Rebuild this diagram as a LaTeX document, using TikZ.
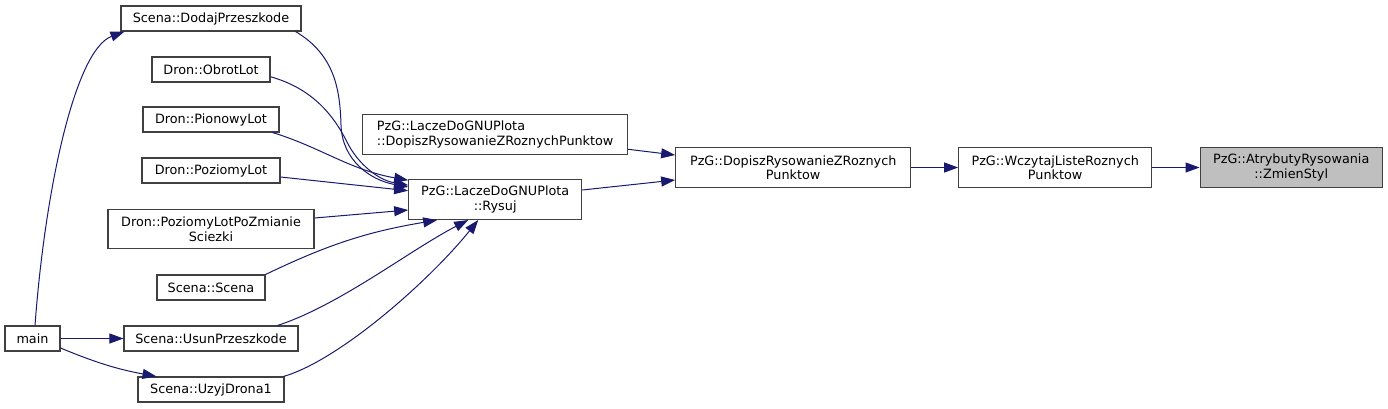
\documentclass[tikz,border=0pt]{standalone}
\usepackage{fontspec}
\setmainfont{DejaVu Sans}
\usepackage{tikz}
\usepackage{xcolor}
\usetikzlibrary{arrows.meta,calc}

\definecolor{ramka}{HTML}{404040}
\definecolor{krawedz}{HTML}{191970}
\definecolor{szary}{HTML}{BFBFBF}
\newcommand{\px}{0.75pt}

\begin{document}
\begin{tikzpicture}[x=0.75pt, y=-0.75pt,
  funkcja/.style={rectangle, draw=ramka, line width=0.8pt, inner sep=0pt, align=center,
    font=\fontsize{9.6pt}{10.9pt}\selectfont, minimum height=25*\px},
  dwie/.style={minimum height=39.6*\px},
  wywolanie/.style={draw=krawedz, line width=0.75pt, -{Triangle[length=10.5pt, width=7.5pt]}}]
\useasboundingbox (0,0) rectangle (1388,408);

% wywolujacy
\node[funkcja, minimum width=55*\px] (main) at (32.5,338.5) {main};
\node[funkcja, minimum width=180*\px] (dodaj) at (211,18.5) {Scena::DodajPrzeszkode};
\node[funkcja, minimum width=118*\px] (obrot) at (211,69.5) {Dron::ObrotLot};
\node[funkcja, minimum width=136*\px] (pionowy) at (211,119.5) {Dron::PionowyLot};
\node[funkcja, minimum width=138*\px] (poziomy) at (211,170.5) {Dron::PoziomyLot};
\node[funkcja, dwie, minimum width=206*\px] (pozzm) at (211,229) {Dron::PoziomyLotPoZmianie\\Sciezki};
\node[funkcja, minimum width=108*\px] (scena) at (211,287.5) {Scena::Scena};
\node[funkcja, minimum width=174*\px] (usun) at (211,338.5) {Scena::UsunPrzeszkode};
\node[funkcja, minimum width=146*\px] (uzyj) at (211,389.5) {Scena::UzyjDrona1};

% PzG
\node[funkcja, dwie, minimum width=265*\px, align=left] (dopiszlacze) at (495.2,134.3) {PzG::LaczeDoGNUPlota\\::DopiszRysowanieZRoznychPunktow};
\node[funkcja, dwie, minimum width=173*\px] (rysuj) at (495.2,199.7) {PzG::LaczeDoGNUPlota\\::Rysuj};
\node[funkcja, dwie, minimum width=235*\px] (dopisz) at (793.2,167.5) {PzG::DopiszRysowanieZRoznych\\Punktow};
\node[funkcja, dwie, minimum width=193*\px] (wczytaj) at (1055.2,167.5) {PzG::WczytajListeRoznych\\Punktow};
\node[funkcja, dwie, minimum width=182.3*\px, fill=szary] (zmien) at (1291.2,167.5) {PzG::AtrybutyRysowania\\::ZmienStyl};

% main
\draw[wywolanie] ($(main.north)+(2.5,0)$) .. controls (45,190) and (75,50) .. ($(dodaj.south west)+(4,0)$);
\draw[wywolanie] (main.east) -- (usun.west);
\draw[wywolanie] ($(main.east)+(0,9.5)$) to[bend right=6] ($(uzyj.north west)+(19,0)$);

% do Rysuj
\draw[wywolanie] ($(dodaj.south east)+(-6,0)$) .. controls (335,55) and (340,90) .. (341,125)
  .. controls (342,160) and (370,180) .. ($(rysuj.west)+(0,-12.7)$);
\draw[wywolanie] ($(obrot.east)+(0,7.2)$) .. controls (310,88) and (332,112) .. (347,142)
  .. controls (358,164) and (378,180) .. ($(rysuj.west)+(0,-14.5)$);
\draw[wywolanie] ($(pionowy.south east)+(-7,0)$) .. controls (320,147) and (350,170) .. ($(rysuj.west)+(0,-19.5)$);
\draw[wywolanie] ($(poziomy.east)+(0,6.5)$) -- ($(rysuj.west)+(0,-9)$);
\draw[wywolanie] ($(pozzm.east)+(0,-11)$) -- ($(rysuj.west)+(0,10.3)$);
\draw[wywolanie] (scena.north east) to[bend left=8] ($(rysuj.south west)+(29,0)$);
\draw[wywolanie] ($(usun.north east)+(-21,0)$) .. controls (340,305) and (410,250) .. ($(rysuj.south)+(-27,0)$);
\draw[wywolanie] ($(uzyj.north east)+(-1,0)$) .. controls (340,360) and (430,280) .. ($(rysuj.south)+(-17,0)$);

% dalej w prawo
\draw[wywolanie] ($(dopiszlacze.east)+(0,15)$) -- ($(dopisz.west)+(0,-12.5)$);
\draw[wywolanie] ($(rysuj.east)+(0,-9.7)$) -- ($(dopisz.west)+(0,12.5)$);
\draw[wywolanie] (dopisz.east) -- (wczytaj.west);
\draw[wywolanie] (wczytaj.east) -- (zmien.west);
\end{tikzpicture}
\end{document}
